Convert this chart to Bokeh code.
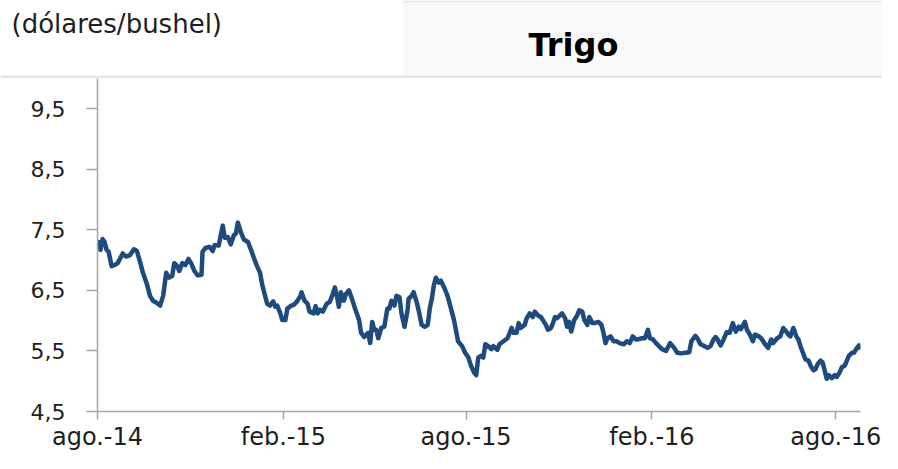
import pandas as pd
from bokeh.plotting import figure
from bokeh.layouts import column, row
from bokeh.models import Range1d, FixedTicker, Label
from bokeh.embed import file_html
from bokeh.resources import INLINE

start_date = "2014-08-01"
# days after start_date of each observation
days = [0, 1, 3, 5, 7, 9, 11, 14, 17, 20, 25, 28, 32, 36, 39, 42, 45, 49, 52, 55, 58, 62, 65, 68, 71, 74, 76, 79, 81, 84, 87, 90, 93, 96, 99, 103, 104, 107, 111, 114, 116, 120, 122, 124, 126, 129, 132, 135, 137, 139, 142, 145, 149, 152, 155, 158, 161, 163, 165, 168, 171, 174, 176, 178, 181, 183, 186,
        188, 191, 195, 198, 201, 202, 205, 208, 210, 214, 216, 218, 220, 223, 227, 230, 233, 235, 237, 239, 241, 244, 246, 249, 252, 255, 259, 261, 264, 268, 270, 272, 274, 276, 278, 281, 284, 287, 289, 291, 294, 296, 299, 301, 304, 307, 308, 311, 313, 316, 318, 321, 324, 327, 329, 331, 333, 335, 338, 340, 344, 347, 350, 353, 357, 361, 364, 367, 370, 373, 375,
        377, 380, 382, 384, 387, 390, 392, 396, 398, 402, 406, 410, 412, 415, 417, 419, 423, 425, 428, 431, 433, 436, 439, 441, 444, 446, 449, 451, 453, 455, 458, 460, 463, 465, 467, 469, 472, 475, 477, 480, 482, 485, 487, 490, 492, 496, 499, 501, 503, 505, 508, 511, 514, 517, 521, 524, 527, 530, 533, 535, 539, 542, 545, 547, 550, 553,
        559, 563, 567, 571, 574, 578, 582, 586, 588, 592, 594, 597, 601, 604, 607, 610, 612, 614, 617, 620, 623, 626, 629, 632, 635, 637, 641, 643, 646, 649, 651, 655, 658, 661, 664, 667, 669, 673, 676, 679, 682, 684, 686, 689, 692, 694, 696, 699, 701, 704, 706, 709, 711, 713, 716, 718, 720, 722, 724, 727, 730, 732, 735, 737, 740, 742, 744, 747, 749, 752, 754, 756]
prices = [7.22, 7.30, 7.17, 7.35, 7.30, 7.17, 7.14, 6.90, 6.92, 6.95, 7.11, 7.06, 7.08, 7.18, 7.15, 6.98, 6.79, 6.60, 6.41, 6.33, 6.30, 6.25, 6.41, 6.79, 6.71, 6.74, 6.95, 6.90, 6.82, 6.95, 6.92, 7.02, 6.94, 6.82, 6.75, 6.76, 7.14, 7.20, 7.22, 7.15, 7.25, 7.24, 7.41, 7.57, 7.37, 7.38, 7.26, 7.41, 7.44, 7.62, 7.46, 7.34, 7.30, 7.17, 7.03, 6.90, 6.79, 6.60, 6.47, 6.28, 6.25, 6.32, 6.23, 6.25, 6.12, 6.01, 6.01,
          6.20, 6.24, 6.27, 6.33, 6.41, 6.47, 6.33, 6.28, 6.15, 6.12, 6.24, 6.12, 6.18, 6.15, 6.28, 6.31, 6.44, 6.55, 6.41, 6.23, 6.47, 6.33, 6.44, 6.50, 6.36, 6.20, 6.01, 5.80, 5.73, 5.80, 5.63, 5.98, 5.85, 5.85, 5.71, 5.88, 5.90, 6.20, 6.20, 6.33, 6.25, 6.41, 6.39, 6.12, 5.90, 6.17, 6.36, 6.41, 6.47, 6.31, 6.17, 5.93, 5.90, 5.93, 6.20, 6.36, 6.58, 6.71, 6.63, 6.66, 6.52, 6.39, 6.20, 6.01, 5.66, 5.58, 5.47, 5.40, 5.25, 5.14, 5.10,
          5.39, 5.42, 5.39, 5.61, 5.58, 5.53, 5.58, 5.52, 5.61, 5.66, 5.71, 5.88, 5.80, 5.80, 5.96, 5.88, 5.93, 6.04, 6.12, 6.06, 6.15, 6.09, 6.06, 6.01, 5.93, 5.85, 5.88, 5.96, 6.06, 6.04, 6.09, 6.12, 6.04, 5.90, 5.98, 5.82, 6.01, 6.09, 6.17, 6.15, 6.01, 5.93, 6.06, 5.96, 5.96, 5.98, 5.93, 5.80, 5.63, 5.71, 5.74, 5.66, 5.66, 5.63, 5.61, 5.66, 5.63, 5.74, 5.69, 5.69, 5.71, 5.71, 5.85, 5.71, 5.69, 5.63,
          5.53, 5.50, 5.63, 5.55, 5.47, 5.46, 5.47, 5.48, 5.66, 5.75, 5.71, 5.61, 5.58, 5.55, 5.58, 5.69, 5.73, 5.69, 5.59, 5.69, 5.81, 5.80, 5.96, 5.82, 5.90, 5.86, 5.98, 5.85, 5.77, 5.66, 5.77, 5.74, 5.69, 5.61, 5.55, 5.69, 5.63, 5.71, 5.74, 5.88, 5.82, 5.77, 5.74, 5.88, 5.74, 5.69, 5.58, 5.45, 5.36, 5.34, 5.26, 5.18, 5.20, 5.28, 5.34, 5.31, 5.18, 5.04, 5.10, 5.05, 5.10, 5.07, 5.15, 5.23, 5.26, 5.34, 5.42, 5.47, 5.47, 5.55, 5.59, 5.53]

tick_dates = ["2014-08-01", "2015-02-01", "2015-08-01", "2016-02-01", "2016-08-01"]
tick_labels = ["ago.-14", "feb.-15", "ago.-15", "feb.-16", "ago.-16"]
y_ticks = [4.5, 5.5, 6.5, 7.5, 8.5, 9.5]
y_labels = ["4,5", "5,5", "6,5", "7,5", "8,5", "9,5"]
title_text = "Trigo"
unit_text = "(dólares/bushel)"

FONT = "DejaVu Sans"
TXT = "#1e1e1e"
AX = "#a6a6a6"
W = 882
HEAD_H = 78
MAIN_H = 453 - HEAD_H

# ---------------- header strip (pixel-coordinate canvas) ----------------
head = figure(width=W, height=HEAD_H, x_range=Range1d(0, W), y_range=Range1d(HEAD_H, 0),
              output_backend="svg", toolbar_location=None,
              x_axis_location=None, y_axis_location=None,
              min_border=0, min_border_left=0, min_border_right=0,
              min_border_top=0, min_border_bottom=0)
head.grid.visible = False
head.outline_line_color = None
head.background_fill_color = "white"
head.border_fill_color = "white"
# light title box with faint top edge, and separator line at the bottom
head.quad(left=[403], right=[W], top=[0], bottom=[HEAD_H - 3],
          fill_color="#f9f9f9", line_color=None)
head.quad(left=[403], right=[W], top=[0], bottom=[2],
          fill_color="#ebebeb", line_color=None)
head.quad(left=[0], right=[W], top=[HEAD_H - 3], bottom=[HEAD_H],
          fill_color="#e6e6e6", line_color=None)
head.add_layout(Label(x=573, y=44, text=title_text, text_font=FONT,
                      text_font_style="bold", text_font_size="32px",
                      text_color="black", text_align="center",
                      text_baseline="alphabetic"))
head.add_layout(Label(x=11, y=23, text=unit_text, text_font=FONT,
                      text_font_size="26px", text_color=TXT,
                      text_align="left", text_baseline="alphabetic"))

# ---------------- main chart ----------------
t0 = pd.Timestamp(start_date)
dates = t0 + pd.to_timedelta(days, unit="D")
x_end = t0 + pd.Timedelta(days=755.5)

p = figure(width=W, height=MAIN_H, x_axis_type="datetime",
           x_range=Range1d(t0, x_end), y_range=Range1d(4.5, 10.0),
           output_backend="svg", toolbar_location=None,
           min_border_left=97, min_border_right=22, min_border_top=0, min_border_bottom=42)
p.outline_line_color = None
p.grid.visible = False
p.background_fill_color = "white"
p.border_fill_color = "white"

p.line(dates, prices, line_color="#1f4a7e", line_width=4.5, line_join="round")

tick_ms = [pd.Timestamp(d).value / 1e6 for d in tick_dates]
p.xaxis.ticker = FixedTicker(ticks=tick_ms)
p.xaxis.major_label_overrides = {t: l for t, l in zip(tick_ms, tick_labels)}
p.yaxis.ticker = FixedTicker(ticks=y_ticks)
p.yaxis.major_label_overrides = {t: l for t, l in zip(y_ticks, y_labels)}

for ax in (p.xaxis[0], p.yaxis[0]):
    ax.axis_line_color = AX
    ax.axis_line_width = 1.5
    ax.major_tick_line_color = AX
    ax.major_tick_line_width = 1.5
    ax.minor_tick_line_color = None
    ax.major_tick_in = 0
    ax.major_label_text_font = FONT
    ax.major_label_text_color = TXT
p.xaxis.major_tick_out = 8
p.xaxis.major_label_standoff = 3
p.xaxis.major_label_text_font_size = "24px"
p.yaxis.major_tick_out = 11
p.yaxis.major_label_standoff = 21
p.yaxis.major_label_text_font_size = "22px"

layout = column(row(head), p, spacing=0)
open("out.html", "w").write(file_html(layout, INLINE))
